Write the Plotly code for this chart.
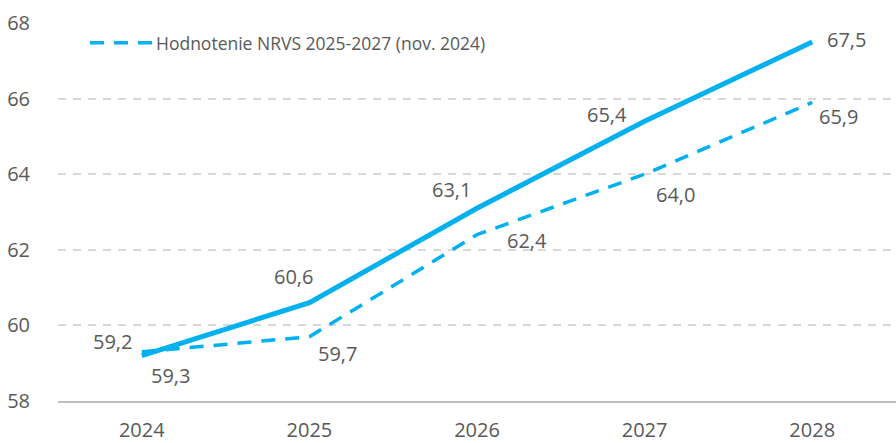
import plotly.graph_objects as go

years = ["2024", "2025", "2026", "2027", "2028"]
actual = [59.2, 60.6, 63.1, 65.4, 67.5]
nrvs = [59.3, 59.7, 62.4, 64.0, 65.9]
legend_name = "Hodnotenie NRVS 2025-2027 (nov. 2024)"
y_ticks = [58, 60, 62, 64, 66, 68]

# label offsets (pixels) for data labels
actual_shift = [(-29, 14), (-16, 26), (-26, 19), (-38, 7), (34, 2)]
nrvs_shift = [(29, -24), (28, -17), (50, -6), (31, -20), (26, -14)]

BLUE = "#00B0F0"
TXT = "#595959"
FONT = "Open Sans"

PLOT_TOP = 23
PLOT_H = 383


def fmt(v):
    return f"{v:.1f}".replace(".", ",")


fig = go.Figure()
fig.add_trace(go.Scatter(x=years, y=nrvs, mode="lines", name=legend_name,
                         line=dict(color=BLUE, width=3.5, dash="14px,10px"),
                         showlegend=False, hoverinfo="skip"))
fig.add_trace(go.Scatter(x=years, y=actual, mode="lines", name="Skutočnosť",
                         line=dict(color=BLUE, width=5), showlegend=False,
                         hoverinfo="skip"))

annotations = []
for i, (v, (dx, dy)) in enumerate(zip(actual, actual_shift)):
    annotations.append(dict(x=i, y=v, xref="x", yref="y", text=fmt(v),
                            showarrow=False, xshift=dx, yshift=dy,
                            font=dict(family=FONT, size=20, color=TXT)))
for i, (v, (dx, dy)) in enumerate(zip(nrvs, nrvs_shift)):
    annotations.append(dict(x=i, y=v, xref="x", yref="y", text=fmt(v),
                            showarrow=False, xshift=dx, yshift=dy,
                            font=dict(family=FONT, size=20, color=TXT)))

# manual legend
leg_y = 1 - (43 - PLOT_TOP) / PLOT_H
annotations.append(dict(x=(154 - 58) / 838, y=leg_y,
                        xref="paper", yref="paper", text=legend_name,
                        xanchor="left", yanchor="middle", showarrow=False,
                        font=dict(family=FONT, size=17.5, color=TXT)))
shapes = [dict(type="line", xref="paper", yref="paper",
               x0=(90 - 58) / 838, x1=(152 - 58) / 838,
               y0=leg_y, y1=leg_y,
               line=dict(color=BLUE, width=3.5, dash="14px,10px"))]

fig.update_layout(
    width=896, height=443,
    margin=dict(l=58, r=0, t=PLOT_TOP, b=443 - PLOT_TOP - PLOT_H),
    paper_bgcolor="white", plot_bgcolor="white",
    font=dict(family=FONT, size=20, color=TXT),
    annotations=annotations, shapes=shapes,
    showlegend=False,
)
fig.update_xaxes(type="category", showgrid=False, showline=True,
                 linecolor="#BFBFBF", linewidth=1.5, ticks="",
                 ticklabelstandoff=10, tickfont=dict(size=20, color=TXT),
                 range=[-0.5, 4.5], fixedrange=True)
fig.update_yaxes(range=[58, 68], tickvals=y_ticks, showgrid=True,
                 gridcolor="#D9D9D9", griddash="8px,7px", gridwidth=1.5,
                 zeroline=False, showline=False, ticks="",
                 ticklabelstandoff=27, tickfont=dict(size=20, color=TXT),
                 fixedrange=True)

fig.write_html("out.html", config={"displayModeBar": False},
               post_script="document.body.style.margin='0px';document.body.style.overflow='hidden';")
